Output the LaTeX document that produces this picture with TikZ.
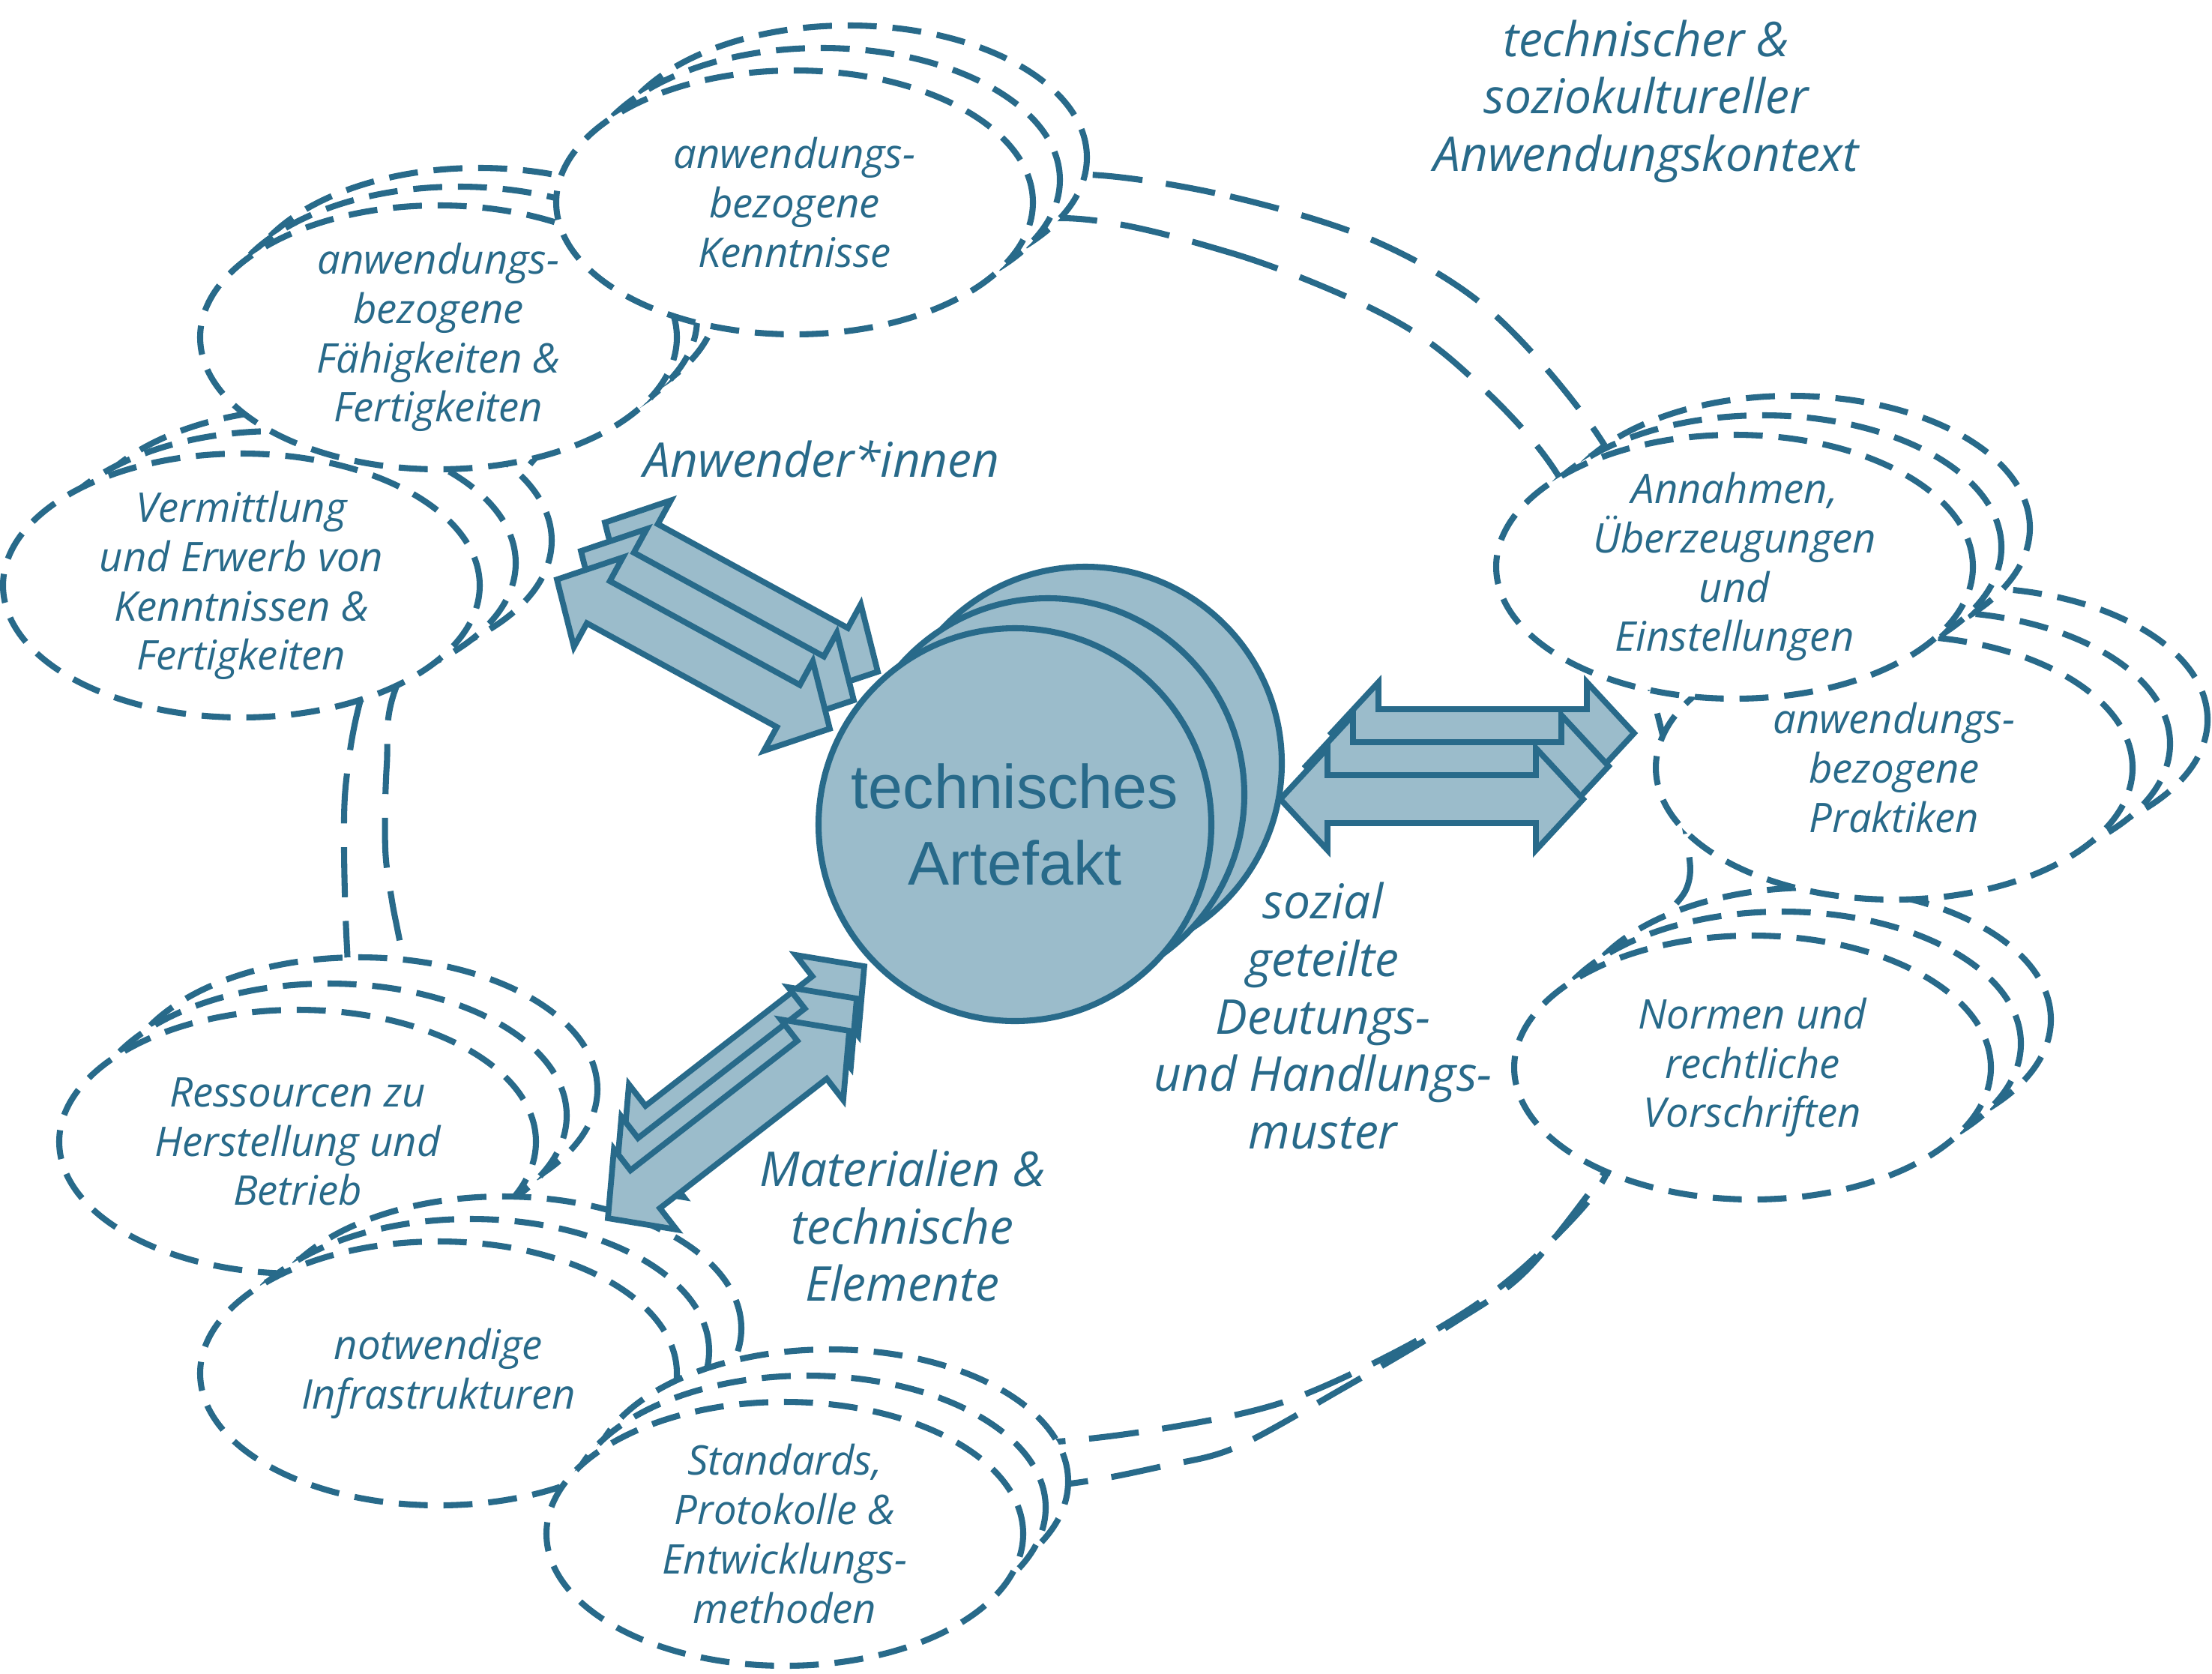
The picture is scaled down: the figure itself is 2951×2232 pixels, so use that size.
\documentclass[tikz,border=0pt]{standalone}
\usepackage{fontspec}
\setmainfont{Open Sans}
\newfontfamily\artfont{Liberation Sans}
\usetikzlibrary{calc,shapes.geometric,shadows}
\definecolor{linecol}{HTML}{286A8A}
\definecolor{artfill}{HTML}{9BBCCB}

\newcommand{\dblblock}[2]{%
  \draw[blockarrow] (#1)
    -- ($(#1)!6.3mm!(#2)!6.8mm!90:(#2)$) -- ($(#1)!6.3mm!(#2)!3.2mm!90:(#2)$)
    -- ($(#2)!6.3mm!(#1)!3.2mm!-90:(#1)$) -- ($(#2)!6.3mm!(#1)!6.8mm!-90:(#1)$)
    -- (#2)
    -- ($(#2)!6.3mm!(#1)!6.8mm!90:(#1)$) -- ($(#2)!6.3mm!(#1)!3.2mm!90:(#1)$)
    -- ($(#1)!6.3mm!(#2)!3.2mm!-90:(#2)$) -- ($(#1)!6.3mm!(#2)!6.8mm!-90:(#2)$)
    -- cycle;}

\begin{document}
\begin{tikzpicture}[x=0.1mm, y=-0.1mm,
  ring/.style={draw=linecol, line width=2.3pt, dash pattern=on 19pt off 9pt},
  grp/.style={ellipse, draw=linecol, line width=2.3pt, dash pattern=on 11pt off 6pt, fill=white,
    minimum width=63.6mm, minimum height=35.2mm, inner sep=0pt, inner ysep=-7pt, align=center,
    text=linecol, font=\itshape\fontsize{15.5}{18.7}\selectfont},
  stack/.style 2 args={copy shadow={shadow xshift=2*#1, shadow yshift=2*#2, draw=linecol},
    copy shadow={shadow xshift=#1, shadow yshift=#2, draw=linecol}},
  lbl/.style={align=center, text=linecol, font=\itshape\fontsize{18.2}{21.8}\selectfont},
  blockarrow/.style={draw=linecol, fill=artfill, line width=2.2pt},
  artcircle/.style={circle, draw=linecol, fill=artfill, line width=2.3pt, minimum size=52.4mm,
    inner sep=0pt, align=center, text=linecol, font=\artfont\fontsize{23.5}{29}\selectfont,
    copy shadow={shadow xshift=9.4mm, shadow yshift=8.2mm, fill=artfill, draw=linecol},
    copy shadow={shadow xshift=4.4mm, shadow yshift=4mm, fill=artfill, draw=linecol}}]
  \useasboundingbox (0,0) rectangle (2951,2232);

  % the two lines of the context ring
  \draw[ring] plot[smooth cycle, tension=0.55] coordinates {
    (1454,233) (1641,262) (1833,321) (1986,413) (2126,572) (2230,760) (2330,950) (2400,1180)
    (2310,1360) (2200,1480) (2140,1565) (2036,1695) (1940,1764) (1788,1854) (1650,1930)
    (1555,1955) (1411,1981) (1150,2000) (820,1880) (560,1650) (475,1420) (463,1265)
    (459,1132) (462,1040) (482,930) (540,760) (650,560) (850,390) (1100,290) (1300,245)};
  \draw[ring] plot[smooth cycle, tension=0.55] coordinates {
    (1419,291) (1641,337) (1833,413) (1948,490) (2076,630) (2180,850) (2235,1050) (2252,1130)
    (2250,1185) (2200,1260) (2150,1450) (2145,1562) (2064,1661) (1974,1737) (1857,1806)
    (1719,1868) (1584,1900) (1411,1923) (1150,1935) (820,1800) (600,1580) (545,1380)
    (537,1279) (523,1202) (514,1132) (516,1020) (528,918) (620,740) (760,560) (950,410)
    (1180,330)};

  % groups, each with two copies behind
  \node[grp, stack={4.8mm}{3mm}] (vermittlung) at (322,781)
    {Vermittlung\\und Erwerb von\\Kenntnissen \&\\Fertigkeiten};
  \node[grp, stack={2.7mm}{2.5mm}] (faehigkeiten) at (585,450)
    {anwendungs-\\bezogene\\Fähigkeiten \&\\Fertigkeiten};
  \node[grp, stack={3.6mm}{3mm}] (kenntnisse) at (1060,270)
    {anwendungs-\\bezogene\\Kenntnisse};
  \node[grp, stack={4.1mm}{3.5mm}] (ressourcen) at (397,1523)
    {Ressourcen zu\\Herstellung und\\Betrieb};
  \node[grp, stack={4.3mm}{3mm}] (infra) at (585,1832)
    {notwendige\\Infrastrukturen};
  \node[grp, stack={3mm}{3.5mm}] (standards) at (1047,2046)
    {Standards,\\Protokolle \&\\Entwicklungs-\\methoden};
  \node[grp, stack={4mm}{3.2mm}] (normen) at (2338,1424)
    {Normen und\\rechtliche\\Vorschriften};
  \node[grp, stack={5mm}{3.2mm}] (praktiken) at (2527,1024)
    {anwendungs-\\bezogene\\Praktiken};
  \node[grp, stack={3.8mm}{2.6mm}] (annahmen) at (2314,756)
    {Annahmen,\\Überzeugungen\\und\\Einstellungen};

  \node[artcircle] (artefakt) at (1354,1100) {technisches\\Artefakt};

  \coordinate (anwA) at (743,773);   \coordinate (anwB) at (1107,972);
  \coordinate (sozA) at (1708,1066); \coordinate (sozB) at (2112,1066);
  \coordinate (matA) at (811,1625);  \coordinate (matB) at (1133,1375);
  \foreach \a/\b/\dx/\dy in {anwA/anwB/32/-38, sozA/sozB/34/-44, matA/matB/10/-43}
    \foreach \k in {2,1,0} {
      \coordinate (tail) at ($(\a)+({\k*\dx},{\k*\dy})$);
      \coordinate (head) at ($(\b)+({\k*\dx},{\k*\dy})$);
      \dblblock{tail}{head}
    }

  \node[lbl] (anwender) at (1096,612) {Anwender*innen};
  \node[lbl] (kontext) at (2196,135) {technischer \&\\soziokultureller\\Anwendungskontext};
  \node[lbl] (muster) at (1765,1355) {sozial\\geteilte\\Deutungs-\\und Handlungs-\\muster};
  \node[lbl] (material) at (1204,1635) {Materialien \&\\technische\\Elemente};
\end{tikzpicture}
\end{document}
